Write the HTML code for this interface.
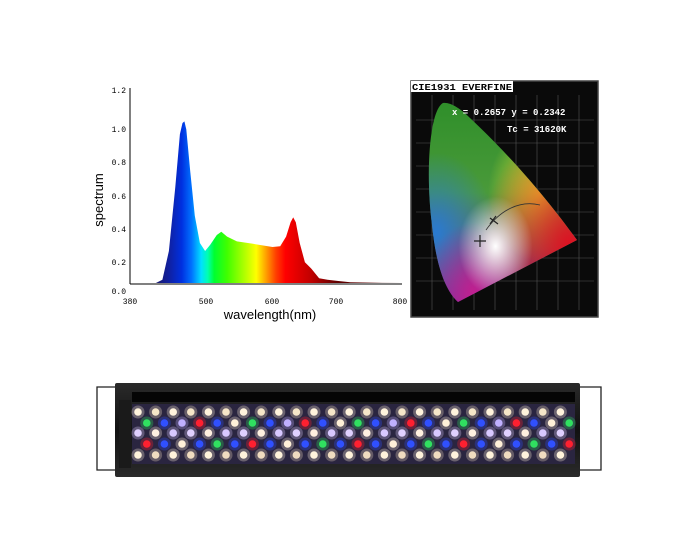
<!DOCTYPE html><html><head><style>
html,body{margin:0;padding:0;background:#fff;}
svg{display:block}
text{font-family:"Liberation Mono",monospace;}
</style></head><body>
<svg id="s" width="700" height="560" viewBox="0 0 700 560" xmlns="http://www.w3.org/2000/svg">
<defs>
<linearGradient id="sp" gradientUnits="userSpaceOnUse" x1="130" y1="0" x2="402" y2="0">
<stop offset="0.1" stop-color="#181870"/>
<stop offset="0.143" stop-color="#1020a0"/>
<stop offset="0.19" stop-color="#0030e0"/>
<stop offset="0.226" stop-color="#0070ff"/>
<stop offset="0.262" stop-color="#00e0ff"/>
<stop offset="0.286" stop-color="#00ffb0"/>
<stop offset="0.31" stop-color="#00ff30"/>
<stop offset="0.357" stop-color="#40ff00"/>
<stop offset="0.43" stop-color="#c0ff00"/>
<stop offset="0.464" stop-color="#ffff00"/>
<stop offset="0.5" stop-color="#ffa000"/>
<stop offset="0.536" stop-color="#ff4000"/>
<stop offset="0.571" stop-color="#ff0000"/>
<stop offset="0.667" stop-color="#c00000"/>
<stop offset="0.76" stop-color="#600000"/>
</linearGradient>
<linearGradient id="cg" x1="0" y1="0" x2="0" y2="1">
<stop offset="0" stop-color="#2f8f2a"/><stop offset="0.45" stop-color="#4a9a3a"/><stop offset="1" stop-color="#7a2aa0"/>
</linearGradient>
<radialGradient id="cr" cx="0.95" cy="0.72" r="0.6"><stop offset="0" stop-color="#e01020"/><stop offset="1" stop-color="#e01020" stop-opacity="0"/></radialGradient>
<radialGradient id="cb" cx="0.05" cy="0.65" r="0.4"><stop offset="0" stop-color="#2a7ad0"/><stop offset="1" stop-color="#2a7ad0" stop-opacity="0"/></radialGradient>
<radialGradient id="cy" cx="0.75" cy="0.45" r="0.35"><stop offset="0" stop-color="#e8e830"/><stop offset="1" stop-color="#e8e830" stop-opacity="0"/></radialGradient>
<radialGradient id="cp" cx="0.3" cy="0.95" r="0.35"><stop offset="0" stop-color="#c02090"/><stop offset="1" stop-color="#c02090" stop-opacity="0"/></radialGradient>
<radialGradient id="cw" cx="0.45" cy="0.72" r="0.25"><stop offset="0" stop-color="#ffffff"/><stop offset="1" stop-color="#ffffff" stop-opacity="0"/></radialGradient>
<linearGradient id="body" x1="0" y1="0" x2="0" y2="1"><stop offset="0" stop-color="#2a2a2a"/><stop offset="0.5" stop-color="#111"/><stop offset="1" stop-color="#2a2a2a"/></linearGradient>
</defs>

<line x1="130" y1="88" x2="130" y2="284" stroke="#000"/>
<line x1="130" y1="284" x2="402" y2="284" stroke="#000"/>
<g font-size="8" fill="#000" text-anchor="end">
<text x="126" y="93">1.2</text><text x="126" y="132">1.0</text><text x="126" y="165">0.8</text>
<text x="126" y="199">0.6</text><text x="126" y="232">0.4</text><text x="126" y="265">0.2</text><text x="126" y="294">0.0</text>
</g>
<g font-size="8" fill="#000" text-anchor="middle">
<text x="130" y="304">380</text><text x="206" y="304">500</text><text x="272" y="304">600</text><text x="336" y="304">700</text><text x="400" y="304">800</text>
</g>
<text x="270" y="319" font-size="13" text-anchor="middle" style="font-family:'Liberation Sans',sans-serif">wavelength(nm)</text>
<text transform="translate(103,200) rotate(-90)" font-size="13" text-anchor="middle" style="font-family:'Liberation Sans',sans-serif">spectrum</text>
<path id="spec" fill="url(#sp)"/>

<rect x="411" y="81" width="187" height="236" fill="#0a0a0a" stroke="#444" stroke-width="1.5"/>
<g stroke="#555" stroke-width="0.6">
<line x1="432" y1="95" x2="432" y2="310"/><line x1="453" y1="95" x2="453" y2="310"/><line x1="474" y1="95" x2="474" y2="310"/><line x1="495" y1="95" x2="495" y2="310"/><line x1="516" y1="95" x2="516" y2="310"/><line x1="537" y1="95" x2="537" y2="310"/><line x1="558" y1="95" x2="558" y2="310"/><line x1="579" y1="95" x2="579" y2="310"/>
<line x1="416" y1="120" x2="594" y2="120"/><line x1="416" y1="143" x2="594" y2="143"/><line x1="416" y1="166" x2="594" y2="166"/><line x1="416" y1="189" x2="594" y2="189"/><line x1="416" y1="212" x2="594" y2="212"/><line x1="416" y1="235" x2="594" y2="235"/><line x1="416" y1="258" x2="594" y2="258"/><line x1="416" y1="281" x2="594" y2="281"/>
</g>
<g id="horse">
<path id="hp" d="M443,103 C430,110 425,170 432,225 C436,265 445,290 458,302 L577,240 C555,210 520,165 470,118 C460,108 450,102 443,103 Z" fill="url(#cg)"/>
</g>
<rect x="411" y="81" width="102" height="11" fill="#fff"/>
<text x="412" y="90" font-size="9" font-weight="bold" fill="#000" textLength="100" lengthAdjust="spacingAndGlyphs">CIE1931 EVERFINE</text>
<text x="452" y="115" font-size="9" font-weight="bold" fill="#fff">x = 0.2657 y = 0.2342</text>
<text x="507" y="132" font-size="9" font-weight="bold" fill="#fff">Tc = 31620K</text>
<path d="M474,241 h12 M480,235 v12 M490,218 l8,6 M496,216 l-6,8" stroke="#222" stroke-width="1.2"/>
<path d="M486,230 C500,210 520,200 540,205" stroke="#333" fill="none" stroke-width="0.8"/>

<path d="M115,387 H97 V470 H115 M579,387 H601 V470 H579" fill="none" stroke="#222" stroke-width="1.3"/>
<rect x="115" y="383" width="465" height="94" rx="2" fill="url(#body)"/>
<rect x="132" y="392" width="443" height="10" fill="#050505"/>
<rect x="132" y="404" width="443" height="60" fill="#2a2540"/>
<rect x="119" y="400" width="12" height="68" fill="#1a1a1a"/>
<g id="leds"></g>
</svg>
<script>
var W=[[380,0],[420,0],[430,.02],[440,.2],[450,.6],[457,.93],[461,1.0],[464,1.01],[467,.96],[473,.7],[480,.42],[488,.25],[496,.2],[504,.24],[514,.3],[521,.32],[530,.29],[545,.26],[570,.245],[600,.225],[612,.23],[621,.29],[628,.38],[632,.41],[636,.38],[642,.25],[650,.13],[660,.09],[672,.03],[685,.02],[700,.013],[720,.005],[760,.001],[800,0]];
function X(n){return 130+(n-380)*272/420}function Y(v){return 283-v*160}
var d="M130,283";W.forEach(function(p){d+=" L"+X(p[0]).toFixed(1)+","+Y(p[1]).toFixed(1)});d+=" L402,283 Z";
document.getElementById('spec').setAttribute('d',d);
var ns="http://www.w3.org/2000/svg",h=document.getElementById('horse');
['cb','cy','cr','cp','cw'].forEach(function(g){var p=document.createElementNS(ns,'path');p.setAttribute('d',document.getElementById('hp').getAttribute('d'));p.setAttribute('fill','url(#'+g+')');h.appendChild(p)});
var L=document.getElementById('leds');
var rows=[[412,0,['#fff3dc','#f5e6c8']],[423,1,['#ff2030','#3050ff','#fff0d8','#30e060','#3050ff','#c0b0ff']],[433,0,['#e0d0ff','#fff0e0','#d8c8ff']],[444,1,['#3050ff','#30e060','#3050ff','#ff2030','#3050ff','#fff0d8']],[455,0,['#fff3dc','#f0dcc0']]];
rows.forEach(function(r,ri){for(var i=0;i<25;i++){var x=138+i*17.6+(r[1]?8.8:0);if(x>572)continue;var c=r[2][(i*7+ri*3)%r[2].length];
var g=document.createElementNS(ns,'circle');g.setAttribute('cx',x);g.setAttribute('cy',r[0]);g.setAttribute('r',6.5);g.setAttribute('fill',c);g.setAttribute('opacity','.3');L.appendChild(g);
var e=document.createElementNS(ns,'circle');e.setAttribute('cx',x);e.setAttribute('cy',r[0]);e.setAttribute('r',3.8);e.setAttribute('fill',c);L.appendChild(e);}});
</script>
</body></html>
